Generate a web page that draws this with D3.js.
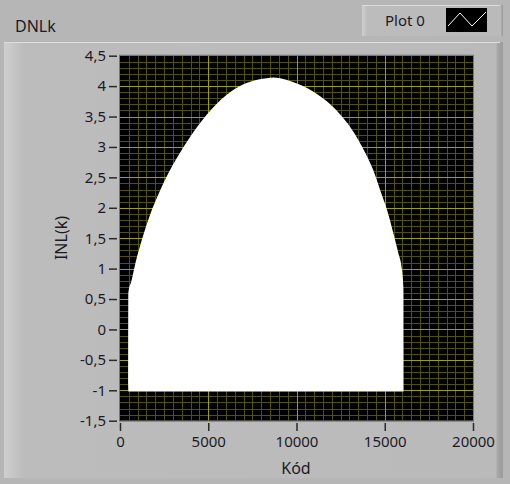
<!DOCTYPE html>
<html>
<head>
<meta charset="utf-8">
<script src="https://cdn.jsdelivr.net/npm/d3@7"></script>
<style>
	body { margin: 0; background: #b6b6b6; }
	svg { display: block; }
	text { font-family: "Noto Sans", sans-serif; fill: #1c1a26; }
</style>
</head>
<body>
<script>
	// upper envelope of the INL trace
	var kod = [470, 471, 658, 873, 1123, 1406, 1735, 2115, 2552, 3062, 3601, 4242, 4661,
		5160, 5699, 6436, 7372, 8319, 8676, 9075, 9759, 10649, 11625, 12401, 12889, 13269,
		13723, 14346, 14743, 15123, 15480, 15764, 15974, 16060, 16064, 16065];
	var inlMax = [-1.02, 0.6, 0.81, 1.09, 1.36, 1.63, 1.91, 2.18, 2.46, 2.74, 3.0, 3.28, 3.44,
		3.61, 3.77, 3.94, 4.07, 4.13, 4.14, 4.13, 4.07, 3.96, 3.77, 3.56, 3.39, 3.23,
		3.0, 2.62, 2.29, 1.97, 1.59, 1.26, 0.98, 0.64, -0.22, -1.02];
	var inlMin = -1.02;
	var xTicks = [0, 5000, 10000, 15000, 20000];
	var yTicks = [-1.5, -1, -0.5, 0, 0.5, 1, 1.5, 2, 2.5, 3, 3.5, 4, 4.5];

	var width = 510, height = 484;
	var svg = d3.select("body").append("svg")
		.attr("width", width)
		.attr("height", height);

	var defs = svg.append("defs");
	var g1 = defs.append("linearGradient").attr("id", "panel").attr("x1", 0).attr("x2", 1);
	g1.append("stop").attr("offset", 0).attr("stop-color", "#cfcfcf");
	g1.append("stop").attr("offset", 0.04).attr("stop-color", "#bcbcbc");
	g1.append("stop").attr("offset", 0.985).attr("stop-color", "#bababa");
	g1.append("stop").attr("offset", 0.99).attr("stop-color", "#a4a4a4");
	g1.append("stop").attr("offset", 1).attr("stop-color", "#9c9c9c");

	/*************************************************/
	// graph frame
	svg.append("rect")
		.attr("x", 4).attr("y", 42).attr("width", 499).attr("height", 436)
		.style("fill", "url(#panel)");
	svg.append("line")
		.attr("x1", 4).attr("x2", 500).attr("y1", 42.5).attr("y2", 42.5)
		.style("stroke", "#dedede");

	// legend
	svg.append("rect")
		.attr("x", 362).attr("y", 5).attr("width", 141).attr("height", 31)
		.style("fill", "url(#panel)");
	svg.append("line")
		.attr("x1", 362).attr("x2", 500).attr("y1", 5.5).attr("y2", 5.5)
		.style("stroke", "#dcdcdc");
	svg.append("text").attr("x", 385).attr("y", 26).style("font-size", "15px").text("Plot 0");
	svg.append("rect")
		.attr("x", 446).attr("y", 8).attr("width", 41).attr("height", 24)
		.style("fill", "#000");
	svg.append("polyline")
		.attr("points", "448,26 460,13 472,26 486,12")
		.style("fill", "none").style("stroke", "#fff").style("stroke-width", 1);

	svg.append("text").attr("x", 15).attr("y", 32).style("font-size", "16px").text("DNLk");

	/*************************************************/
	var x = d3.scaleLinear().domain([0, 20000]).range([120, 473]);
	var y = d3.scaleLinear().domain([-1.5, 4.5]).range([420.7, 55.7]);

	svg.append("rect")
		.attr("x", x(0)).attr("y", y(4.5))
		.attr("width", x(20000) - x(0)).attr("height", y(-1.5) - y(4.5))
		.style("fill", "#000");

	var plot = svg.append("g");
	var minorX = d3.range(500, 20000, 500).filter(function (d) { return d % 5000 != 0 });
	var minorY = d3.range(-14, 45, 1).map(function (d) { return d / 10 }).filter(function (d) { return Math.round(d * 10) % 5 != 0 });

	plot.selectAll(".mx").data(minorX).enter().append("line")
		.attr("x1", function (d) { return Math.round(x(d)) + 0.5 })
		.attr("x2", function (d) { return Math.round(x(d)) + 0.5 })
		.attr("y1", y(4.5)).attr("y2", y(-1.5))
		.style("stroke", "#525200");
	plot.selectAll(".my").data(minorY).enter().append("line")
		.attr("y1", function (d) { return Math.round(y(d)) + 0.5 })
		.attr("y2", function (d) { return Math.round(y(d)) + 0.5 })
		.attr("x1", x(0)).attr("x2", x(20000))
		.style("stroke", "#525200");
	plot.selectAll(".Mx").data([5000, 10000, 15000]).enter().append("line")
		.attr("x1", function (d) { return Math.round(x(d)) + 0.5 })
		.attr("x2", function (d) { return Math.round(x(d)) + 0.5 })
		.attr("y1", y(4.5)).attr("y2", y(-1.5))
		.style("stroke", "#a0a000");
	plot.selectAll(".My").data(yTicks.slice(1, -1)).enter().append("line")
		.attr("y1", function (d) { return Math.round(y(d)) + 0.5 })
		.attr("y2", function (d) { return Math.round(y(d)) + 0.5 })
		.attr("x1", x(0)).attr("x2", x(20000))
		.style("stroke", "#a0a000");

	// the trace itself (dense oscillation shown as filled band)
	var area = d3.area()
		.curve(d3.curveMonotoneX)
		.x(function (d, i) { return x(kod[i]) })
		.y0(function () { return y(inlMin) })
		.y1(function (d) { return y(d) });
	plot.append("path")
		.datum(inlMax)
		.attr("d", area)
		.style("fill", "#fff");

	svg.append("rect")
		.attr("x", x(0) - 0.5).attr("y", y(4.5) - 0.5)
		.attr("width", x(20000) - x(0) + 1).attr("height", y(-1.5) - y(4.5) + 1)
		.style("fill", "none").style("stroke", "#777");

	/*************************************************/
	var fmt = function (d) { return String(d).replace(".", ",") };

	var yAxis = svg.append("g")
		.attr("transform", "translate(117,0)")
		.call(d3.axisLeft(y).tickValues(yTicks).tickFormat(fmt).tickSize(8).tickPadding(3));
	var xAxis = svg.append("g")
		.attr("transform", "translate(0,423)")
		.call(d3.axisBottom(x).tickValues(xTicks).tickFormat(fmt).tickSize(8).tickPadding(5));

	[xAxis, yAxis].forEach(function (a) {
		a.select(".domain").remove();
		a.selectAll(".tick line").attr("stroke", "#2a2a2a").attr("stroke-width", 1.5);
		a.selectAll(".tick text").attr("fill", "#1c1a26")
			.style("font-family", "'Noto Sans', sans-serif").style("font-size", "15px");
	});

	svg.append("text")
		.attr("x", 296).attr("y", 474)
		.attr("text-anchor", "middle")
		.style("font-size", "16px")
		.text("Kód");
	svg.append("text")
		.attr("transform", "translate(67,238) rotate(-90)")
		.attr("text-anchor", "middle")
		.style("font-size", "16px")
		.text("INL(k)");
</script>
</body>
</html>
